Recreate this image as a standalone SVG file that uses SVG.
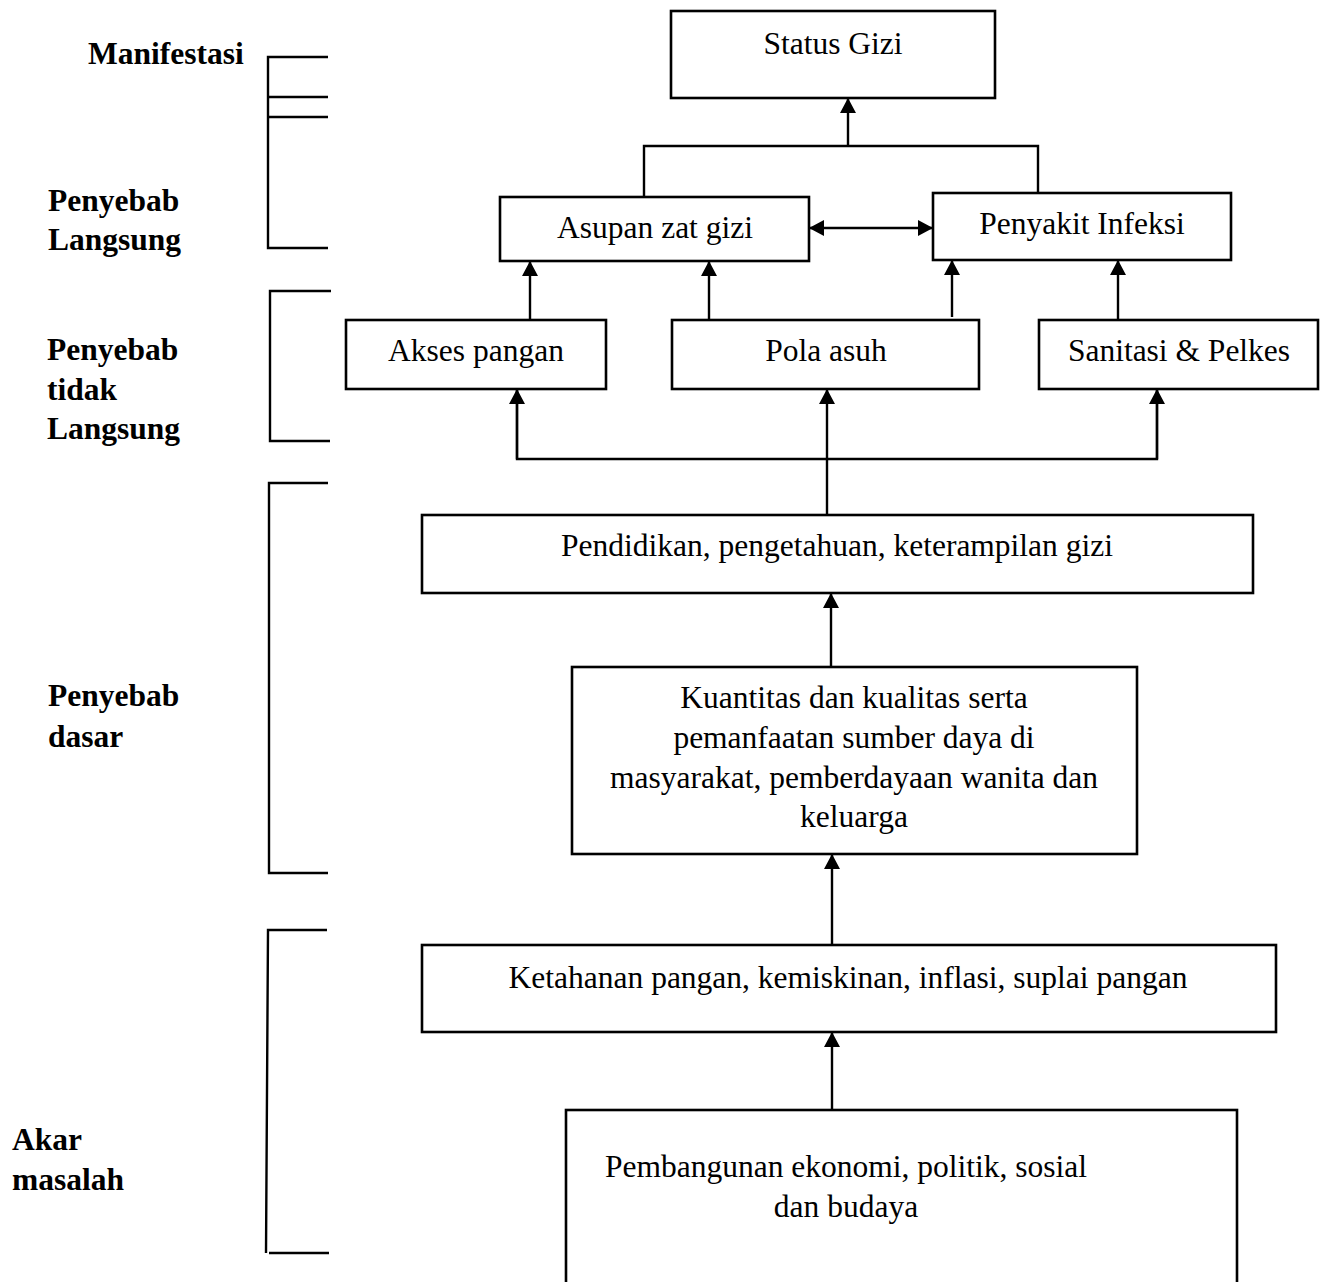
<svg xmlns="http://www.w3.org/2000/svg" width="1328" height="1282" viewBox="0 0 1328 1282">
<style>
.box{fill:#fff;stroke:#000;stroke-width:2.6}
.ln{fill:none;stroke:#000;stroke-width:2.4}
.t{font-family:"Liberation Serif","Times New Roman",serif;font-size:31.5px;fill:#000;text-anchor:middle}
.b{font-family:"Liberation Serif","Times New Roman",serif;font-size:31.5px;font-weight:bold;fill:#000}
</style>
<defs>
<marker id="ah" markerUnits="userSpaceOnUse" markerWidth="16" markerHeight="16" refX="15" refY="8" orient="auto">
<path d="M0,0 L15,8 L0,16 z" fill="#000"/>
</marker>
<marker id="as" markerUnits="userSpaceOnUse" markerWidth="16" markerHeight="16" refX="0" refY="8" orient="auto">
<path d="M15,0 L0,8 L15,16 z" fill="#000"/>
</marker>
</defs>
<rect width="1328" height="1282" fill="#fff"/>

<g id="labels">
<text class="b" x="88" y="64">Manifestasi</text>
<text class="b" x="48" y="211">Penyebab</text>
<text class="b" x="48" y="250">Langsung</text>
<text class="b" x="47" y="360">Penyebab</text>
<text class="b" x="47" y="400">tidak</text>
<text class="b" x="47" y="439">Langsung</text>
<text class="b" x="48" y="706">Penyebab</text>
<text class="b" x="48" y="747">dasar</text>
<text class="b" x="12" y="1150">Akar</text>
<text class="b" x="12" y="1190">masalah</text>
</g>

<g id="brackets">
<path class="ln" d="M328,57 H268 V248 H328 M268,97 H328 M268,117 H328"/>
<path class="ln" d="M331,291 H270 V441 H330"/>
<path class="ln" d="M328,483 H269 V873 H328"/>
<path class="ln" d="M327,930 H268 L266,1253 M269,1253 H329"/>
</g>

<g id="n-status">
<rect class="box" x="671" y="11" width="324" height="87"/>
<text class="t" x="833" y="54">Status Gizi</text>
</g>
<g id="n-asupan">
<rect class="box" x="500" y="197" width="309" height="64"/>
<text class="t" x="655" y="238">Asupan zat gizi</text>
</g>
<g id="n-infeksi">
<rect class="box" x="933" y="193" width="298" height="67"/>
<text class="t" x="1082" y="234">Penyakit Infeksi</text>
</g>
<g id="n-akses">
<rect class="box" x="346" y="320" width="260" height="69"/>
<text class="t" x="476" y="361">Akses pangan</text>
</g>
<g id="n-pola">
<rect class="box" x="672" y="320" width="307" height="69"/>
<text class="t" x="826" y="361">Pola asuh</text>
</g>
<g id="n-sanitasi">
<rect class="box" x="1039" y="320" width="279" height="69"/>
<text class="t" x="1179" y="361">Sanitasi &amp; Pelkes</text>
</g>
<g id="n-pendidikan">
<rect class="box" x="422" y="515" width="831" height="78"/>
<text class="t" x="837" y="556">Pendidikan, pengetahuan, keterampilan gizi</text>
</g>
<g id="n-kuantitas">
<rect class="box" x="572" y="667" width="565" height="187"/>
<text class="t" x="854" y="708">Kuantitas dan kualitas serta</text>
<text class="t" x="854" y="748">pemanfaatan sumber daya di</text>
<text class="t" x="854" y="788">masyarakat, pemberdayaan wanita dan</text>
<text class="t" x="854" y="827">keluarga</text>
</g>
<g id="n-ketahanan">
<rect class="box" x="422" y="945" width="854" height="87"/>
<text class="t" x="848" y="988">Ketahanan pangan, kemiskinan, inflasi, suplai pangan</text>
</g>
<g id="n-pembangunan">
<rect class="box" x="566" y="1110" width="671" height="200"/>
<text class="t" x="846" y="1177">Pembangunan ekonomi, politik, sosial</text>
<text class="t" x="846" y="1217">dan budaya</text>
</g>

<g id="connectors">
<line class="ln" x1="848" y1="146" x2="848" y2="98" marker-end="url(#ah)"/>
<path class="ln" d="M644,197 V146 H1038 V193"/>
<line class="ln" x1="809" y1="228" x2="933" y2="228" marker-start="url(#as)" marker-end="url(#ah)"/>
<line class="ln" x1="530" y1="320" x2="530" y2="261" marker-end="url(#ah)"/>
<line class="ln" x1="709" y1="321" x2="709" y2="261" marker-end="url(#ah)"/>
<line class="ln" x1="952" y1="317" x2="952" y2="260" marker-end="url(#ah)"/>
<line class="ln" x1="1118" y1="320" x2="1118" y2="260" marker-end="url(#ah)"/>
<line class="ln" x1="827" y1="515" x2="827" y2="389" marker-end="url(#ah)"/>
<path class="ln" d="M517,389 V459 H1157 V389"/>
<line class="ln" x1="517" y1="459" x2="517" y2="389" marker-end="url(#ah)"/>
<line class="ln" x1="1157" y1="459" x2="1157" y2="389" marker-end="url(#ah)"/>
<line class="ln" x1="831" y1="667" x2="831" y2="593" marker-end="url(#ah)"/>
<line class="ln" x1="832" y1="945" x2="832" y2="854" marker-end="url(#ah)"/>
<line class="ln" x1="832" y1="1110" x2="832" y2="1032" marker-end="url(#ah)"/>
</g>
</svg>
